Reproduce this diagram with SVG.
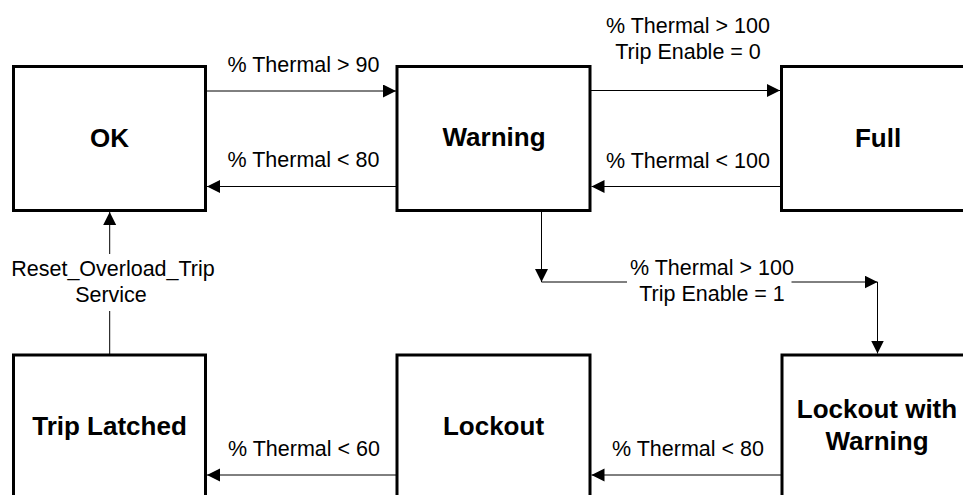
<svg xmlns="http://www.w3.org/2000/svg" width="963" height="495" viewBox="0 0 963 495">
  <style>
    .box { fill: #ffffff; stroke: #000000; stroke-width: 3; }
    .title { font-family: "Liberation Sans", Arial, sans-serif; font-weight: bold; font-size: 26px; text-anchor: middle; fill: #000000; }
    .lbl { font-family: "Liberation Sans", Arial, sans-serif; font-size: 21.5px; text-anchor: middle; fill: #000000; }
    .conn { fill: none; stroke: #000000; stroke-width: 1; }
  </style>
  <defs>
    <marker id="arrow" markerUnits="userSpaceOnUse" markerWidth="14" markerHeight="14" refX="13" refY="6.5" orient="auto">
      <path d="M0,0 L13,6.5 L0,13 Z" fill="#000000"/>
    </marker>
  </defs>
  <rect x="0" y="0" width="963" height="495" fill="#ffffff"/>

  <g id="node-ok">
    <rect class="box" x="13.5" y="66.5" width="192" height="144"/>
    <text class="title" x="109.5" y="147">OK</text>
  </g>
  <g id="node-warning">
    <rect class="box" x="397" y="66.5" width="193" height="144"/>
    <text class="title" x="494" y="146">Warning</text>
  </g>
  <g id="node-full">
    <rect class="box" x="781.5" y="66.5" width="193" height="144"/>
    <text class="title" x="878" y="147">Full</text>
  </g>
  <g id="node-trip-latched">
    <rect class="box" x="13.5" y="355" width="192" height="160"/>
    <text class="title" x="109.5" y="435">Trip Latched</text>
  </g>
  <g id="node-lockout">
    <rect class="box" x="397" y="355" width="193" height="160"/>
    <text class="title" x="493.5" y="435">Lockout</text>
  </g>
  <g id="node-lockout-warning">
    <rect class="box" x="782" y="355" width="193" height="160"/>
    <text class="title" x="877" y="418">Lockout with</text>
    <text class="title" x="877" y="450">Warning</text>
  </g>

  <g id="connectors">
    <line class="conn" x1="205.5" y1="91" x2="396" y2="91" marker-end="url(#arrow)"/>
    <line class="conn" x1="397" y1="186.5" x2="207" y2="186.5" marker-end="url(#arrow)"/>
    <line class="conn" x1="590" y1="90.5" x2="780" y2="90.5" marker-end="url(#arrow)"/>
    <line class="conn" x1="781.5" y1="186.5" x2="591.5" y2="186.5" marker-end="url(#arrow)"/>
    <line class="conn" x1="541.5" y1="212" x2="541.5" y2="282" marker-end="url(#arrow)"/>
    <line class="conn" x1="541.5" y1="282" x2="627" y2="282"/>
    <line class="conn" x1="791.5" y1="282" x2="877.5" y2="282" marker-end="url(#arrow)"/>
    <line class="conn" x1="877.5" y1="282" x2="877.5" y2="353.5" marker-end="url(#arrow)"/>
    <line class="conn" x1="782" y1="475" x2="591.5" y2="475" marker-end="url(#arrow)"/>
    <line class="conn" x1="397" y1="475" x2="207" y2="475" marker-end="url(#arrow)"/>
    <line class="conn" x1="109.7" y1="355" x2="109.7" y2="311"/>
    <line class="conn" x1="109.7" y1="254" x2="109.7" y2="212" marker-end="url(#arrow)"/>

    <text class="lbl" x="303.5" y="71.5">% Thermal &gt; 90</text>
    <text class="lbl" x="303.5" y="167">% Thermal &lt; 80</text>
    <text class="lbl" x="688" y="33">% Thermal &gt; 100</text>
    <text class="lbl" x="688" y="59">Trip Enable = 0</text>
    <text class="lbl" x="688" y="168">% Thermal &lt; 100</text>
    <text class="lbl" x="712" y="275">% Thermal &gt; 100</text>
    <text class="lbl" x="712" y="300.5">Trip Enable = 1</text>
    <text class="lbl" x="113" y="276">Reset_Overload_Trip</text>
    <text class="lbl" x="111" y="301.5">Service</text>
    <text class="lbl" x="304" y="456">% Thermal &lt; 60</text>
    <text class="lbl" x="688" y="456">% Thermal &lt; 80</text>
  </g>
</svg>
